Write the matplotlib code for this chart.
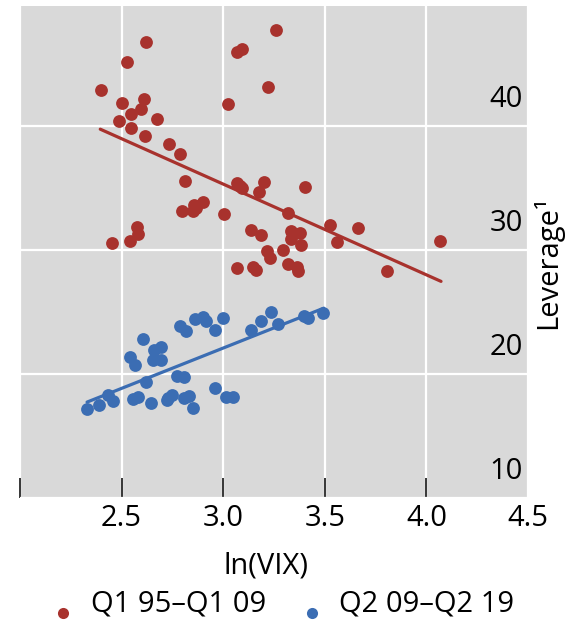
import matplotlib
matplotlib.use('Agg')
import matplotlib.pyplot as plt
import matplotlib.transforms as mtransforms
from matplotlib.lines import Line2D

plt.rcParams['font.family'] = ['Open Sans', 'DejaVu Sans']

RED = '#a8322d'
BLUE = '#3b6db3'
PANEL = '#d9d9d9'

# Q1 95-Q1 09
red_x = [2.399, 2.529, 2.619, 2.503, 2.609, 2.594, 2.545, 2.488, 2.674, 2.545,
         2.613, 2.735, 2.785, 2.811, 2.798, 2.855, 2.868, 2.899, 2.852, 3.002,
         3.025, 3.068, 3.092, 3.260, 3.219, 3.068, 3.084, 3.092, 3.203, 3.177,
         3.403, 3.317, 3.136, 3.185, 3.332, 3.377, 3.336, 3.381, 3.217, 3.230,
         3.295, 3.068, 3.146, 3.163, 3.320, 3.361, 3.369, 3.524, 3.662, 3.562,
         4.067, 3.804, 2.578, 2.581, 2.542, 2.453]
red_y = [42.96, 45.22, 46.83, 41.91, 42.23, 41.40, 40.99, 40.46, 40.59, 39.84,
         39.25, 38.55, 37.77, 35.54, 33.12, 33.65, 33.39, 33.85, 33.12, 32.93,
         41.80, 46.02, 46.23, 47.80, 43.15, 35.40, 35.14, 35.00, 35.48, 34.73,
         35.06, 32.98, 31.64, 31.23, 31.51, 31.37, 30.91, 30.43, 29.90, 29.35,
         30.02, 28.55, 28.60, 28.41, 28.87, 28.60, 28.28, 31.99, 31.77, 30.65,
         30.70, 28.33, 31.83, 31.29, 30.70, 30.59]

# Q2 09-Q2 19
blue_x = [2.330, 2.390, 2.432, 2.456, 2.554, 2.581, 2.643, 2.619, 2.542, 2.567,
          2.603, 2.659, 2.696, 2.655, 2.696, 2.785, 2.816, 2.859, 2.901, 2.917,
          2.774, 2.806, 2.722, 2.749, 2.728, 2.806, 2.834, 2.852, 2.999, 2.958,
          3.136, 3.186, 3.235, 3.271, 3.397, 3.418, 3.491, 2.958, 3.015, 3.048]
blue_y = [17.20, 17.48, 18.33, 17.80, 18.01, 18.12, 17.64, 19.35, 21.37, 20.75,
          22.85, 21.91, 22.20, 21.10, 21.15, 23.87, 23.47, 24.46, 24.57, 24.30,
          19.86, 19.76, 17.93, 18.33, 18.06, 18.06, 18.20, 17.26, 24.52, 23.52,
          23.52, 24.30, 24.98, 24.06, 24.65, 24.52, 24.94, 18.87, 18.15, 18.15]

# fitted lines (end points)
red_fit_x = [2.395, 4.072]
red_fit_y = [39.76, 27.48]
blue_fit_x = [2.330, 3.495]
blue_fit_y = [17.74, 25.32]

xticks = [2.0, 2.5, 3.0, 3.5, 4.0, 4.5]
xtick_labels = ['', '2.5', '3.0', '3.5', '4.0', '4.5']
yticks = [10, 20, 30, 40]
legend_labels = ['Q1 95–Q1 09', 'Q2 09–Q2 19']

fig = plt.figure(figsize=(5.77, 6.22), dpi=100)
ax = fig.add_axes([20 / 577, 1 - 498 / 622, 508 / 577, 492 / 622])
ax.set_facecolor(PANEL)
for s in ax.spines.values():
  s.set_visible(False)

ax.set_xlim(2.0, 4.5)
ax.set_ylim(10, 49.7)
ax.set_xticks(xticks)
ax.set_xticklabels(xtick_labels, fontsize=21)
ax.set_yticks(yticks)
ax.set_yticklabels([])
ax.grid(True, color='white', linewidth=1.6)
ax.set_axisbelow(True)
ax.tick_params(axis='x', direction='in', length=14.4, width=1.1, color='black', pad=4)
ax.tick_params(axis='y', length=0)
xt = ax.xaxis.get_major_ticks()
xt[0].tick1line.set_color('#777777')
xt[-1].tick1line.set_visible(False)

trans = mtransforms.blended_transform_factory(ax.transAxes, ax.transData)
trans = mtransforms.offset_copy(trans, fig=fig, x=-3.6, y=13.5, units='points')
for v in yticks:
  ax.text(1.0, v, str(v), transform=trans, ha='right', va='baseline', fontsize=21)

ax.scatter(red_x, red_y, s=85, color=RED, linewidths=0, zorder=3)
ax.scatter(blue_x, blue_y, s=85, color=BLUE, linewidths=0, zorder=3)
ax.plot(red_fit_x, red_fit_y, color=RED, linewidth=2.3, zorder=4, solid_capstyle='round')
ax.plot(blue_fit_x, blue_fit_y, color=BLUE, linewidth=2.3, zorder=4, solid_capstyle='round')

fig.text(548 / 577, 1 - 262 / 622, 'Leverage¹', rotation=90, ha='center', va='center', fontsize=21)
fig.text(266 / 577, 1 - 574 / 622, 'ln(VIX)', ha='center', va='baseline', fontsize=21)

# legend
for mx, tx, col, lab in [(63, 91, RED, legend_labels[0]), (312, 339, BLUE, legend_labels[1])]:
  fig.add_artist(Line2D([mx / 577], [1 - 613 / 622], marker='o', markersize=8,
                        color=col, markeredgewidth=0, transform=fig.transFigure))
  fig.text(tx / 577, 1 - 611 / 622, lab, ha='left', va='baseline', fontsize=21)

fig.savefig('out.png', dpi=100)
